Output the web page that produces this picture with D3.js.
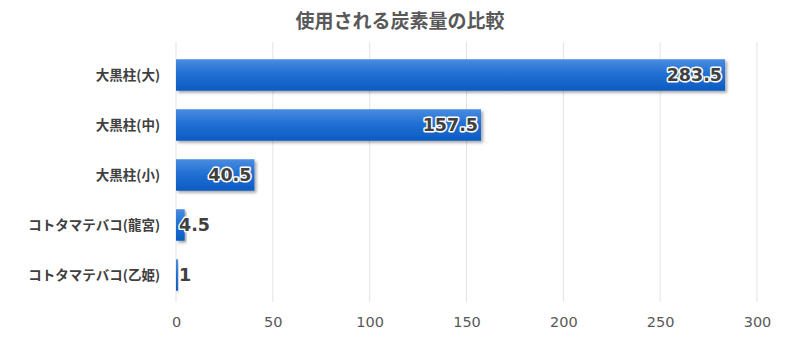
<!DOCTYPE html>
<html><head><meta charset="utf-8">
<script src="https://cdn.jsdelivr.net/npm/d3@7/dist/d3.min.js"></script>
<style>
html,body{margin:0;padding:0;background:#fff;}
svg{display:block;font-family:"Noto Sans CJK JP","Noto Sans",sans-serif;}
</style></head>
<body>
<svg id="chart" width="800" height="337"></svg>
<script>
// Carbon usage per item
const categories = ["大黒柱(大)", "大黒柱(中)", "大黒柱(小)", "コトタマテバコ(龍宮)", "コトタマテバコ(乙姫)"];
const values = [283.5, 157.5, 40.5, 4.5, 1];
const xTicks = [0, 50, 100, 150, 200, 250, 300];
const title = "使用される炭素量の比較";

const svg = d3.select("#chart");
const margin = {left: 176, right: 43, top: 50, bottom: 37};
const W = 800, H = 337;

const x = d3.scaleLinear().domain([0, 300]).range([margin.left, W - margin.right]);
const y = d3.scaleBand().domain(categories).range([margin.top, H - margin.bottom]).paddingInner(0.37).paddingOuter(0.185);

const defs = svg.append("defs");
const grad = defs.append("linearGradient").attr("id", "barGrad").attr("x1", 0).attr("y1", 0).attr("x2", 0).attr("y2", 1);
grad.append("stop").attr("offset", "0%").attr("stop-color", "#4a8ce0");
grad.append("stop").attr("offset", "45%").attr("stop-color", "#2270d4");
grad.append("stop").attr("offset", "100%").attr("stop-color", "#0a5bc2");
const sh = defs.append("filter").attr("id", "shadow").attr("x", "-10%").attr("y", "-20%").attr("width", "130%").attr("height", "160%");
sh.append("feDropShadow").attr("dx", 2).attr("dy", 2).attr("stdDeviation", 1.5).attr("flood-color", "#000").attr("flood-opacity", 0.35);

// title
svg.append("text").attr("x", 400).attr("y", 28).attr("text-anchor", "middle")
  .attr("font-size", 19).attr("font-weight", "bold").attr("fill", "#595959").text(title);

// vertical gridlines
svg.append("g").selectAll("line").data(xTicks).join("line")
  .attr("x1", d => x(d)).attr("x2", d => x(d))
  .attr("y1", 42).attr("y2", H - margin.bottom + 2)
  .attr("stroke", "#e3e3e3").attr("stroke-width", 1);

// x axis labels
const xAxis = d3.axisBottom(x).tickValues(xTicks).tickSize(0).tickPadding(0);
const gx = svg.append("g").attr("transform", `translate(0,${H - 15})`).call(xAxis);
gx.select(".domain").remove();
gx.selectAll("text").attr("font-size", 14.5).attr("fill", "#595959")
  .attr("font-family", "'DejaVu Sans',sans-serif").attr("dy", "0.35em").attr("y", 0);

// y axis labels
const yAxis = d3.axisLeft(y).tickSize(0).tickPadding(0);
const gy = svg.append("g").attr("transform", `translate(${margin.left - 16},0)`).call(yAxis);
gy.select(".domain").remove();
gy.selectAll("text").attr("font-size", 13.5).attr("font-weight", "bold").attr("fill", "#404040")
  .attr("font-family", "'Noto Sans CJK JP',sans-serif").attr("dy", "0.38em");

// bars
svg.append("g").selectAll("rect").data(values).join("rect")
  .attr("x", x(0))
  .attr("y", (d, i) => y(categories[i]))
  .attr("width", d => Math.max(1.5, x(d) - x(0)))
  .attr("height", y.bandwidth())
  .attr("fill", "url(#barGrad)")
  .attr("filter", "url(#shadow)");

// value labels: inside end, shifted right when the bar is too short
const lab = svg.append("g").selectAll("text").data(values).join("text")
  .attr("y", (d, i) => y(categories[i]) + y.bandwidth() / 2)
  .attr("dy", "0.36em")
  .attr("font-size", 17.5).attr("font-weight", "bold")
  .attr("font-family", "'DejaVu Sans',sans-serif")
  .attr("fill", "#404040")
  .attr("stroke", "#fff").attr("stroke-width", 3).attr("stroke-linejoin", "round")
  .attr("paint-order", "stroke")
  .text(d => d);
lab.each(function(d) {
  const w = this.getComputedTextLength();
  const start = Math.max(x(d) - 3 - w, x(0) + 3);
  d3.select(this).attr("x", start);
});
</script>
</body></html>
